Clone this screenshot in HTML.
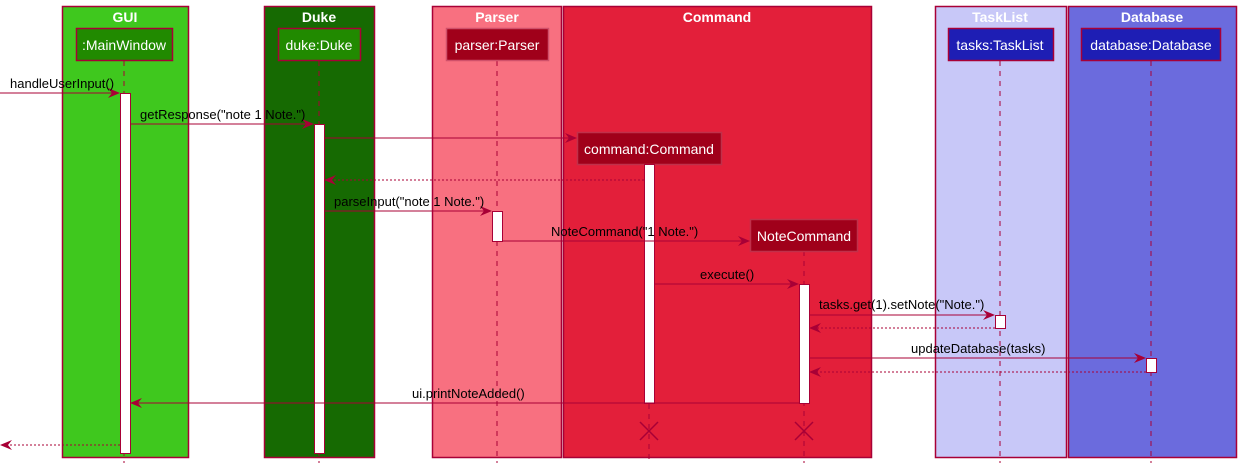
<!DOCTYPE html>
<html><head><meta charset="utf-8"><style>
html,body{margin:0;padding:0;background:#fff;}
svg{display:block;font-family:"Liberation Sans",sans-serif;}
</style></head><body>
<svg width="1239" height="469" viewBox="0 0 1239 469" xmlns="http://www.w3.org/2000/svg">
<defs>
<marker id="a" viewBox="0 0 12 10" refX="11" refY="5" markerWidth="12" markerHeight="10" markerUnits="userSpaceOnUse" orient="auto"><path d="M0,0 L12,5 L0,10 L4,5 Z" fill="#A80036"/></marker>
</defs>
<g stroke="#A80036" stroke-width="1.5">
<rect x="62.5" y="6.5" width="126" height="451" fill="#3FC81E"/>
<rect x="264.5" y="6.5" width="110" height="451" fill="#166A02"/>
<rect x="432.5" y="6.5" width="129" height="451" fill="#F87080"/>
<rect x="563.5" y="6.5" width="308" height="451" fill="#E31F3A"/>
<rect x="935.5" y="6.5" width="131" height="451" fill="#C8C8F8"/>
<rect x="1068.5" y="6.5" width="168" height="451" fill="#6B6BDD"/>
</g>
<g font-weight="bold" font-size="14" fill="#fff" text-anchor="middle">
<text x="125" y="22">GUI</text><text x="319" y="22">Duke</text><text x="497" y="22">Parser</text>
<text x="717" y="22">Command</text><text x="1000" y="22">TaskList</text><text x="1152" y="22">Database</text>
</g>
<g stroke="#A80036" stroke-width="1" stroke-dasharray="5,5">
<line x1="124" y1="61" x2="124" y2="463"/><line x1="319" y1="61" x2="319" y2="463"/>
<line x1="497" y1="61" x2="497" y2="463"/><line x1="649" y1="164" x2="649" y2="463"/>
<line x1="804" y1="251" x2="804" y2="463"/><line x1="1000" y1="61" x2="1000" y2="463"/>
<line x1="1151" y1="61" x2="1151" y2="463"/>
</g>
<g stroke="#A80036" stroke-width="1.5">
<rect x="76.5" y="28.5" width="96" height="32" fill="#218A00"/>
<rect x="278.5" y="28.5" width="82" height="32" fill="#218A00"/>
<rect x="446.5" y="28.5" width="102" height="32" fill="#A0001A" stroke="#D0506A"/>
<rect x="948.5" y="28.5" width="105" height="32" fill="#1E1EB4"/>
<rect x="1081.5" y="28.5" width="139" height="32" fill="#1E1EB4"/>
<rect x="577.5" y="132.5" width="144" height="32" fill="#A0001A" stroke="#C0304A"/>
<rect x="750.5" y="219.5" width="107" height="32" fill="#A0001A" stroke="#C0304A"/>
</g>
<g font-size="14" fill="#fff" text-anchor="middle">
<text x="124" y="50">:MainWindow</text><text x="319" y="50">duke:Duke</text>
<text x="497" y="50">parser:Parser</text><text x="1000" y="50">tasks:TaskList</text>
<text x="1151" y="50">database:Database</text>
<text x="649" y="154">command:Command</text><text x="804" y="241">NoteCommand</text>
</g>
<g stroke="#A80036" stroke-width="1" fill="#fff">
<rect x="120.5" y="93.5" width="10" height="360"/>
<rect x="314.5" y="124.5" width="10" height="329"/>
<rect x="644.5" y="164.5" width="10" height="239"/>
<rect x="492.5" y="211.5" width="10" height="30"/>
<rect x="799.5" y="284.5" width="10" height="119"/>
<rect x="995.5" y="315.5" width="10" height="13"/>
<rect x="1146.5" y="358.5" width="10" height="14"/>
</g>
<g stroke="#A80036" stroke-width="1" fill="none">
<line x1="0" y1="93" x2="119" y2="93" marker-end="url(#a)"/>
<line x1="130" y1="124" x2="313" y2="124" marker-end="url(#a)"/>
<line x1="324" y1="138" x2="576" y2="138" marker-end="url(#a)"/>
<line x1="644" y1="180" x2="325" y2="180" stroke-dasharray="2,2" marker-end="url(#a)"/>
<line x1="324" y1="211" x2="491" y2="211" marker-end="url(#a)"/>
<line x1="502" y1="241" x2="749" y2="241" marker-end="url(#a)"/>
<line x1="654" y1="284" x2="798" y2="284" marker-end="url(#a)"/>
<line x1="809" y1="315" x2="994" y2="315" marker-end="url(#a)"/>
<line x1="995" y1="328" x2="810" y2="328" stroke-dasharray="2,2" marker-end="url(#a)"/>
<line x1="809" y1="358" x2="1145" y2="358" marker-end="url(#a)"/>
<line x1="1146" y1="372" x2="810" y2="372" stroke-dasharray="2,2" marker-end="url(#a)"/>
<line x1="799" y1="403" x2="131" y2="403" marker-end="url(#a)"/>
<line x1="120" y1="445" x2="1" y2="445" stroke-dasharray="2,2" marker-end="url(#a)"/>
<path d="M640,422 L658,440 M658,422 L640,440 M795,422 L813,440 M813,422 L795,440" stroke-width="1.5"/>
</g>
<g font-size="13" fill="#000">
<text x="10" y="88">handleUserInput()</text>
<text x="140" y="119">getResponse("note 1 Note.")</text>
<text x="334" y="206">parseInput("note 1 Note.")</text>
<text x="551" y="236">NoteCommand("1 Note.")</text>
<text x="700" y="279">execute()</text>
<text x="819" y="309">tasks.get(1).setNote("Note.")</text>
<text x="911" y="353">updateDatabase(tasks)</text>
<text x="412" y="398">ui.printNoteAdded()</text>
</g>
</svg>
</body></html>
